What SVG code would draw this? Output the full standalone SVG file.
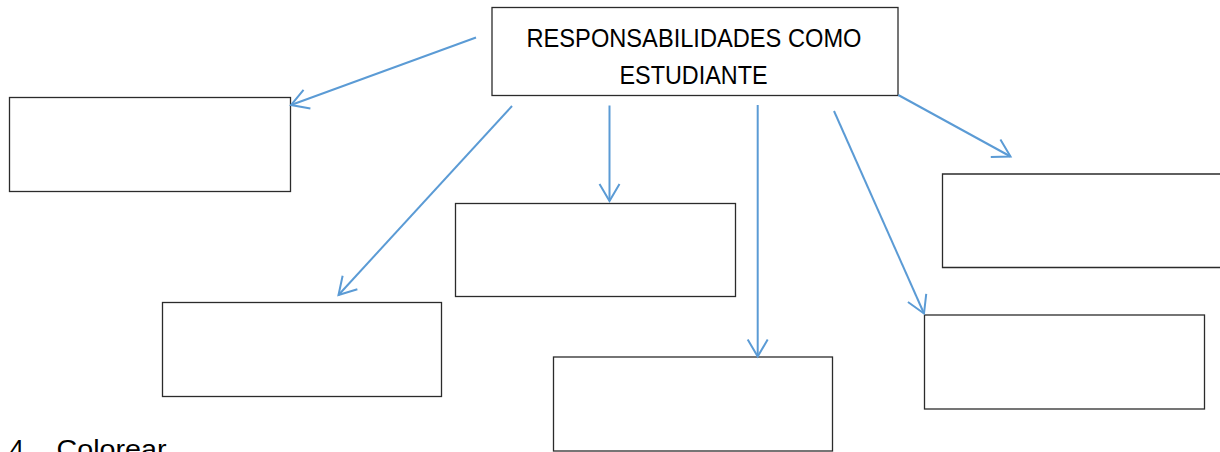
<svg xmlns="http://www.w3.org/2000/svg" width="1220" height="452" viewBox="0 0 1220 452">
<style>
.box{fill:#fff;stroke:#2b2b2b;stroke-width:1.3}
.conn{fill:none;stroke:#5b9bd5;stroke-width:2}
.t{font-family:"Liberation Sans",Arial,sans-serif;fill:#000}
</style>
<defs>
<marker id="ah" markerUnits="userSpaceOnUse" markerWidth="30" markerHeight="30" viewBox="-20 -15 25 30" refX="0" refY="0" orient="auto">
<path d="M-17,-10 L0,0 L-17,10" fill="none" stroke="#5b9bd5" stroke-width="2" stroke-linejoin="miter"/>
</marker>
</defs>
<rect width="1220" height="452" fill="#fff"/>
<g id="main">
<rect class="box" x="492" y="7.5" width="406" height="88"/>
<text class="t" x="694" y="47" font-size="25" text-anchor="middle" textLength="335" lengthAdjust="spacingAndGlyphs">RESPONSABILIDADES COMO</text>
<text class="t" x="693.5" y="83.5" font-size="25" text-anchor="middle" textLength="148" lengthAdjust="spacingAndGlyphs">ESTUDIANTE</text>
</g>
<g id="box1"><rect class="box" x="9.5" y="97.5" width="281" height="94"/></g>
<g id="box2"><rect class="box" x="162.5" y="302.5" width="279" height="94"/></g>
<g id="box3"><rect class="box" x="455.5" y="203.5" width="280" height="93"/></g>
<g id="box4"><rect class="box" x="553.5" y="357" width="279" height="94"/></g>
<g id="box5"><path class="box" d="M1222,174 L942.5,174 L942.5,267.5 L1222,267.5"/></g>
<g id="box6"><rect class="box" x="924.5" y="315" width="280" height="94"/></g>
<g id="connectors">
<line class="conn" x1="476" y1="37.5" x2="291" y2="105" marker-end="url(#ah)"/>
<line class="conn" x1="512" y1="106" x2="338.5" y2="295" marker-end="url(#ah)"/>
<line class="conn" x1="609.5" y1="105.5" x2="609.5" y2="201" marker-end="url(#ah)"/>
<line class="conn" x1="757.7" y1="105" x2="757.7" y2="356.5" marker-end="url(#ah)"/>
<line class="conn" x1="834" y1="111" x2="924" y2="313.5" marker-end="url(#ah)"/>
<line class="conn" x1="898.3" y1="95" x2="1010.5" y2="156.5" marker-end="url(#ah)"/>
</g>
<g id="caption">
<text class="t" x="9.5" y="458" font-size="26">4.</text>
<text class="t" x="56.5" y="458" font-size="26" textLength="110" lengthAdjust="spacingAndGlyphs">Colorear</text>
</g>
</svg>
